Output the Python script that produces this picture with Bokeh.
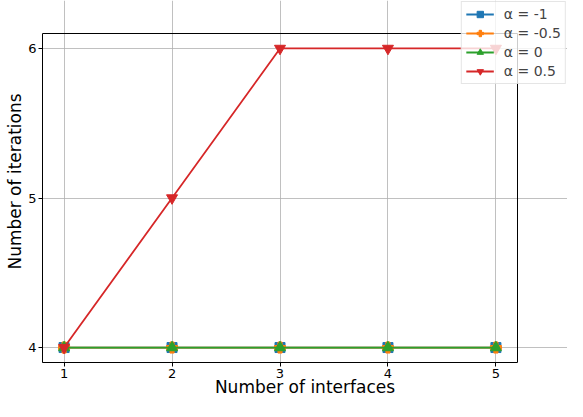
from bokeh.plotting import figure
from bokeh.models import Range1d, FixedTicker, Legend, LegendItem, BoxAnnotation
from bokeh.embed import file_html
from bokeh.resources import INLINE

interfaces = [1, 2, 3, 4, 5]
it_m1 = [4, 4, 4, 4, 4]
it_m05 = [4, 4, 4, 4, 4]
it_0 = [4, 4, 4, 4, 4]
it_05 = [4, 5, 6, 6, 6]
labels = ["α = -1", "α = -0.5", "α = 0", "α = 0.5"]
colors = ["#1f77b4", "#ff7f0e", "#2ca02c", "#d62728"]
markers = ["square", "plus", "triangle", "inverted_triangle"]
series = [it_m1, it_m05, it_0, it_05]

# axes limits (matplotlib-style box) and layout geometry
X0, X1 = 0.8, 5.2
Y0, Y1 = 3.9, 6.1
W, H = 567, 401
LEFT, BOTTOM = 42, 39          # borders (px)
BOX_RIGHT_GAP, BOX_TOP_GAP = 50, 33
frame_w = W - LEFT
frame_h = H - BOTTOM
ppx = (frame_w - BOX_RIGHT_GAP) / (X1 - X0)
ppy = (frame_h - BOX_TOP_GAP) / (Y1 - Y0)

p = figure(width=W, height=H, output_backend="svg", toolbar_location=None,
           x_range=Range1d(X0, X1 + BOX_RIGHT_GAP / ppx),
           y_range=Range1d(Y0, Y1 + BOX_TOP_GAP / ppy),
           min_border_left=LEFT, min_border_right=0, min_border_top=0,
           min_border_bottom=BOTTOM)

items = []
for ys, lab, c, m in zip(series, labels, colors, markers):
    r1 = p.line(interfaces, ys, line_color=c, line_width=1.8)
    size = 11 if m in ("triangle", "inverted_triangle", "plus") else 10
    r2 = p.scatter(interfaces, ys, marker=m, size=size, fill_color=c, line_color=c)
    items.append(LegendItem(label=lab, renderers=[r1, r2]))

box = BoxAnnotation(left=X0, right=X1, bottom=Y0, top=Y1, fill_alpha=0,
                    line_color="black", line_alpha=1.0, line_width=1)
p.add_layout(box)

legend = Legend(items=items, location="top_right", background_fill_alpha=0.8,
                border_line_color="#cccccc", label_text_font="DejaVu Sans",
                label_text_font_size="14px", glyph_width=28, glyph_height=16,
                label_standoff=10, spacing=3, padding=4, margin=1, label_height=16)
p.add_layout(legend, "center")

p.outline_line_color = None
p.background_fill_color = "white"
p.border_fill_color = "white"

for ax in (p.xaxis[0], p.yaxis[0]):
    ax.major_label_text_font = "DejaVu Sans"
    ax.major_label_text_font_size = "13px"
    ax.major_label_text_color = "black"
    ax.major_label_text_line_height = 1.0
    ax.axis_label_text_font = "DejaVu Sans"
    ax.axis_label_text_font_size = "17px"
    ax.axis_label_text_font_style = "normal"
    ax.axis_label_text_color = "black"
    ax.axis_label_text_line_height = 1.0
    ax.axis_line_color = "black"
    ax.major_tick_out = 4
    ax.major_tick_in = 0
    ax.minor_tick_out = 0
    ax.minor_tick_in = 0
    ax.major_label_standoff = 2

p.xaxis.bounds = (X0, X1)
p.yaxis.bounds = (Y0, Y1)
p.xaxis.ticker = FixedTicker(ticks=interfaces)
p.yaxis.ticker = FixedTicker(ticks=[4, 5, 6])
p.xaxis.axis_label = "Number of interfaces"
p.yaxis.axis_label = "Number of iterations"
p.xaxis.major_label_standoff = 2
p.xaxis.axis_label_standoff = -4
p.yaxis.axis_label_standoff = 0

p.xgrid.bounds = (Y0, Y1)
p.ygrid.bounds = (X0, X1)
p.grid.grid_line_color = "#b0b0b0"
p.grid.grid_line_width = 0.8

open("out.html", "w").write(file_html(p, INLINE))
